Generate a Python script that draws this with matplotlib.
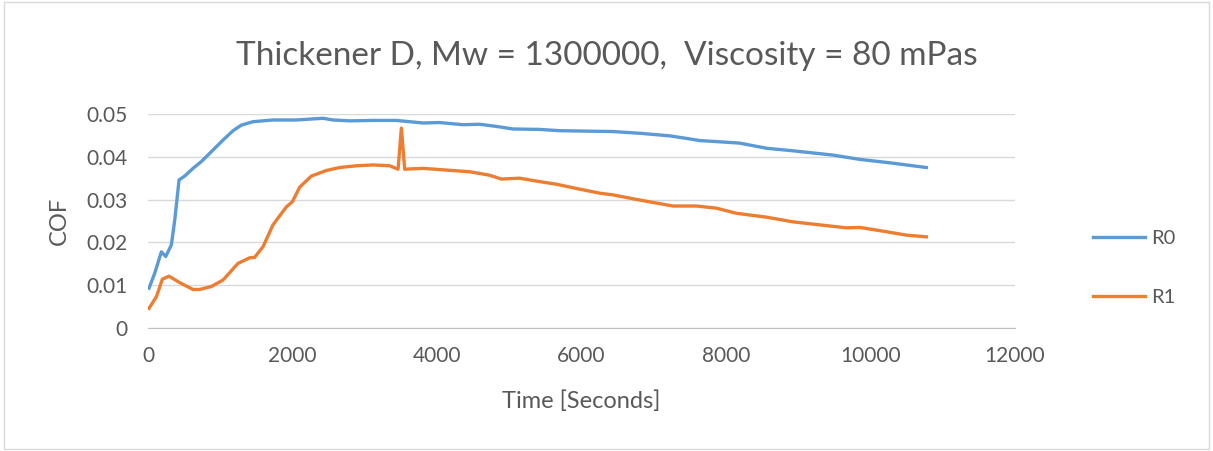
import numpy as np
from matplotlib import pyplot as plt
from matplotlib.patches import Rectangle

# R0 readings (time [s], COF)
r0_time = [14, 93, 185, 245, 323, 370, 430, 508, 623, 739, 877, 1038, 1177, 1292,
           1453, 1730, 2054, 2422, 2560, 2792, 3115, 3438, 3806, 4037, 4360, 4591,
           4822, 5052, 5421, 5698, 6436, 6805, 7220, 7451, 7636, 8189, 8559, 8928,
           9481, 9850, 10265, 10773]
r0_cof = [0.0093, 0.0128, 0.0178, 0.0167, 0.0194, 0.0252, 0.0346, 0.0355, 0.0373,
          0.0389, 0.0412, 0.0439, 0.0461, 0.0474, 0.0482, 0.0486, 0.0486, 0.0490,
          0.0486, 0.0484, 0.0485, 0.0485, 0.0479, 0.0480, 0.0475, 0.0476, 0.0471,
          0.0465, 0.0464, 0.0461, 0.0459, 0.0455, 0.0449, 0.0443, 0.0438, 0.0432,
          0.0420, 0.0414, 0.0404, 0.0394, 0.0386, 0.0375]

# R1 readings (time [s], COF)
r1_time = [14, 116, 199, 291, 439, 623, 715, 877, 1038, 1246, 1407, 1476, 1592,
           1730, 1915, 1998, 2100, 2261, 2469, 2653, 2884, 3115, 3345, 3461, 3507,
           3553, 3806, 4130, 4453, 4729, 4891, 5144, 5421, 5652, 5929, 6252, 6436,
           6805, 7266, 7590, 7867, 8144, 8559, 8928, 9297, 9666, 9850, 10219,
           10496, 10773]
r1_cof = [0.0046, 0.0073, 0.0114, 0.0121, 0.0106, 0.0090, 0.0090, 0.0097, 0.0112,
          0.0151, 0.0164, 0.0165, 0.0190, 0.0241, 0.0283, 0.0295, 0.0329, 0.0355,
          0.0368, 0.0375, 0.0379, 0.0381, 0.0379, 0.0371, 0.0467, 0.0371, 0.0373,
          0.0369, 0.0365, 0.0357, 0.0348, 0.0350, 0.0342, 0.0336, 0.0326, 0.0315,
          0.0311, 0.0299, 0.0285, 0.0285, 0.0280, 0.0268, 0.0259, 0.0248, 0.0241,
          0.0234, 0.0235, 0.0225, 0.0217, 0.0213]

x_ticks = [0, 2000, 4000, 6000, 8000, 10000, 12000]
y_ticks = [0, 0.01, 0.02, 0.03, 0.04, 0.05]

plt.rcParams['font.family'] = ['Lato', 'DejaVu Sans']
text_color = '#595959'
W, H = 1213, 451

fig = plt.figure(figsize=(W / 100, H / 100), dpi=100)
fig.patches.append(Rectangle((0.003, 0.005), 0.994, 0.99, transform=fig.transFigure,
                             fill=False, edgecolor='#d9d9d9', linewidth=1))
ax = fig.add_axes([148 / W, 1 - 328 / H, 867 / W, 214 / H])

ax.plot(r0_time, r0_cof, color='#5B9BD5', linewidth=2.4, label='R0')
ax.plot(r1_time, r1_cof, color='#ED7D31', linewidth=2.4, label='R1')

ax.set_xlim(0, 12000)
ax.set_ylim(0, 0.05)
ax.set_xticks(x_ticks)
ax.set_yticks(y_ticks)
ax.set_xticklabels([str(t) for t in x_ticks])
ax.set_yticklabels(['0'] + ['{:.2f}'.format(t) for t in y_ticks[1:]])
ax.tick_params(length=0, labelsize=15, labelcolor=text_color)
ax.tick_params(axis='x', pad=13)
ax.tick_params(axis='y', pad=15)
ax.grid(axis='y', color='#d9d9d9', linewidth=1)
ax.set_axisbelow(True)
for s in ['top', 'right', 'left']:
    ax.spines[s].set_visible(False)
ax.spines['bottom'].set_color('#bfbfbf')

fig.text(581 / W, 1 - 408 / H, 'Time [Seconds]', fontsize=17, color=text_color,
         ha='center', va='baseline')
fig.text(59 / W, 1 - 221 / H, 'COF', fontsize=17, color=text_color,
         ha='center', va='center', rotation=90)
fig.text(607 / W, 1 - 65 / H, 'Thickener D, Mw = 1300000,  Viscosity = 80 mPas',
         fontsize=24, color=text_color, ha='center', va='baseline')

ax.legend(loc='upper left', bbox_to_anchor=(1093 / W, 1 - 230 / H),
          bbox_transform=fig.transFigure, frameon=False, borderpad=0,
          borderaxespad=0, fontsize=14.5, labelcolor=text_color,
          handlelength=2.6, handletextpad=0.3, labelspacing=2.1)

fig.savefig('out.png', dpi=100)
